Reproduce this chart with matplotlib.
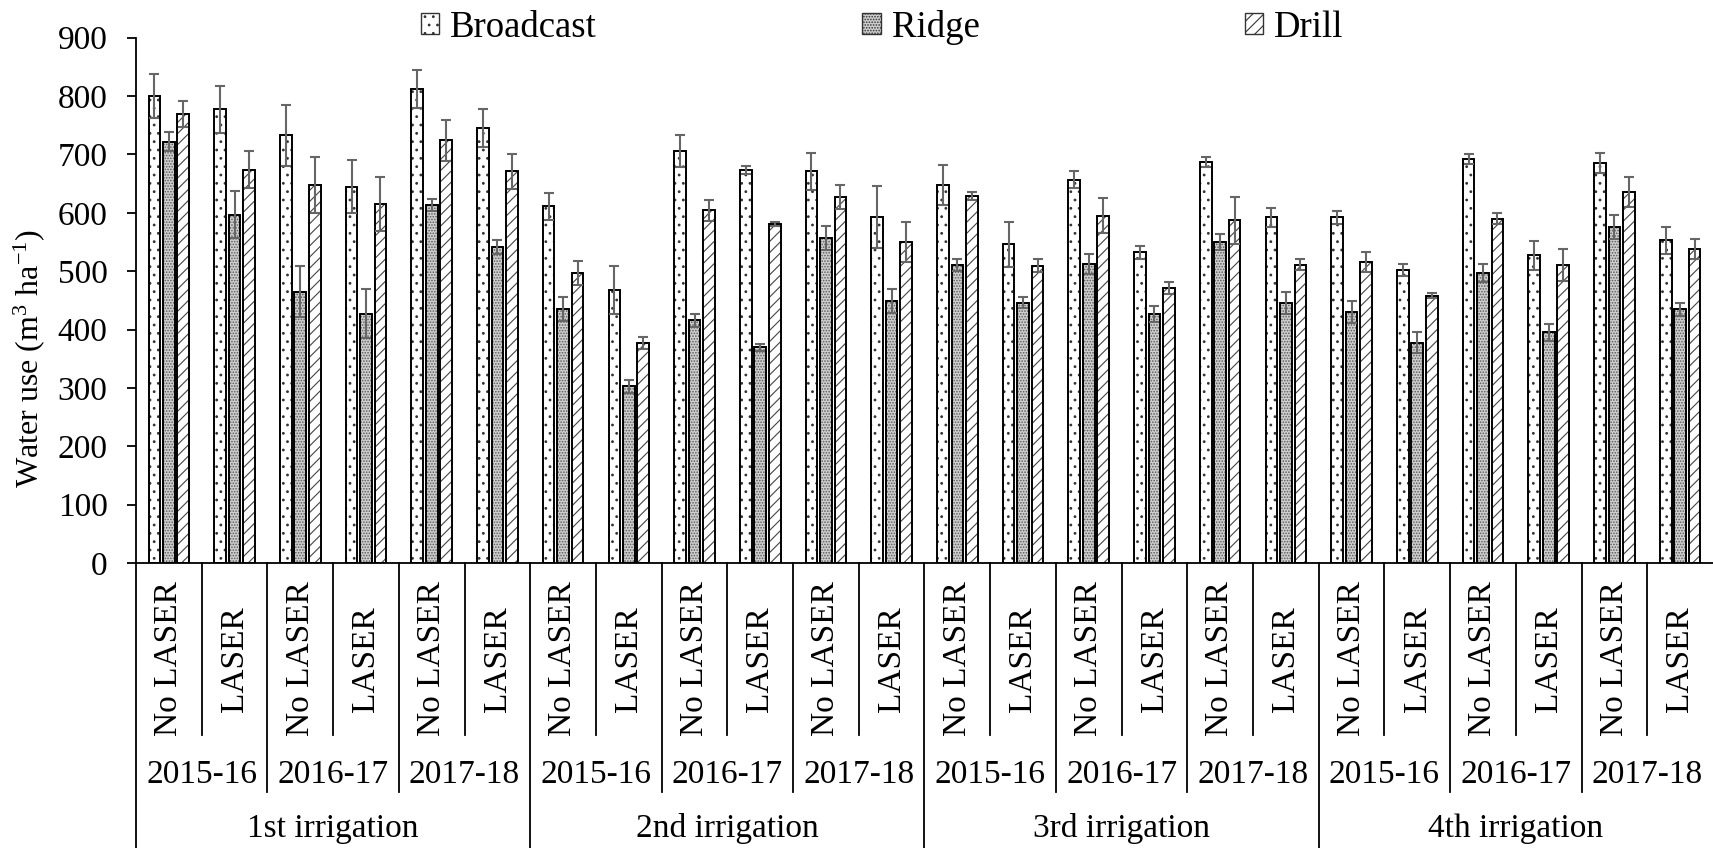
import matplotlib
matplotlib.use("Agg")
import matplotlib.pyplot as plt
import matplotlib.transforms as mtransforms
import numpy as np

# =========================
# DATA
# =========================
irrigations = ["1st irrigation", "2nd irrigation", "3rd irrigation", "4th irrigation"]
years = ["2015-16", "2016-17", "2017-18"]
levelling = ["No LASER", "LASER"]

broadcast = [800, 777, 733, 645, 812, 745,
             611, 467, 706, 673, 671, 593,
             648, 546, 657, 532, 687, 592,
             592, 502, 692, 527, 685, 553]
broadcast_err = [38, 40, 52, 45, 33, 33,
                 23, 41, 27, 7, 32, 53,
                 34, 39, 14, 11, 9, 17,
                 11, 11, 9, 25, 17, 23]

ridge = [722, 597, 465, 427, 613, 541,
         435, 303, 416, 370, 557, 449,
         511, 446, 513, 427, 550, 446,
         430, 377, 497, 395, 576, 435]
ridge_err = [16, 40, 43, 42, 10, 12,
             20, 11, 11, 6, 21, 21,
             10, 9, 17, 14, 14, 19,
             19, 18, 16, 14, 21, 11]

drill = [769, 674, 648, 615, 724, 671,
         497, 377, 604, 581, 627, 550,
         629, 509, 595, 471, 587, 511,
         515, 458, 590, 511, 636, 538]
drill_err = [22, 32, 48, 46, 35, 30,
             21, 10, 18, 4, 20, 35,
             7, 11, 30, 10, 40, 9,
             17, 4, 9, 27, 26, 17]

# =========================
# STYLE
# =========================
plt.rcParams['font.family'] = 'Liberation Serif'
plt.rcParams['mathtext.fontset'] = 'custom'
plt.rcParams['mathtext.rm'] = 'Liberation Serif'
plt.rcParams['mathtext.it'] = 'Liberation Serif:italic'
plt.rcParams['hatch.linewidth'] = 0.8

FS = 24
W, H = 1713, 848

fig = plt.figure(figsize=(W / 100, H / 100), dpi=100)
ax = fig.add_axes([136 / W, 1 - 563 / H, 1 - 136 / W, (563 - 37.7) / H])

n = len(broadcast)
x = np.arange(n)
bw = 0.178
offs = [-0.22, 0.0, 0.22]

series = [
    ("Broadcast", broadcast, broadcast_err, "white", "..", "#333333"),
    ("Ridge", ridge, ridge_err, "#cfcfcf", "......", "#5a5a5a"),
    ("Drill", drill, drill_err, "white", "///", "#444444"),
]

handles = []
for (name, vals, errs, fc, hatch, hc), off in zip(series, offs):
    # hatch layer
    ax.bar(x + off, vals, bw, color=fc, edgecolor=hc, hatch=hatch, linewidth=0, zorder=2)
    # outline
    ax.bar(x + off, vals, bw, facecolor="none", edgecolor="black", linewidth=1.4, zorder=3)
    ax.errorbar(x + off, vals, yerr=errs, fmt="none", ecolor="#666666",
                elinewidth=1.5, capsize=3.5, capthick=1.5, zorder=4)
    handles.append(plt.Rectangle((0, 0), 1, 1, facecolor=fc, edgecolor="#333333",
                                 hatch=hatch, linewidth=1.0, label=name))

ax.set_xlim(-0.5, n - 0.5)
ax.set_ylim(0, 900)
ax.set_yticks(range(0, 901, 100))
ax.tick_params(axis='y', labelsize=FS, length=6.5, width=1.3, direction='out', pad=14)
ax.set_xticks([])
for s in ["top", "right"]:
    ax.spines[s].set_visible(False)
ax.spines["left"].set_linewidth(1.3)
ax.spines["bottom"].set_linewidth(1.3)
ax.set_ylabel(r"Water use (m$^{3}$ ha$^{-1}$)", fontsize=23)
ax.yaxis.set_label_coords((47 - 136) / 1577, 0.39)

# =========================
# MULTI-LEVEL CATEGORY AXIS
# =========================
trans = mtransforms.blended_transform_factory(ax.transData, fig.transFigure)
y_laser = 1 - 735 / H
y_year = 1 - 792 / H

for k in range(n):
    xs = k - 0.5
    if k % 6 == 0:
        y_end = 0
    elif k % 2 == 0:
        y_end = y_year
    else:
        y_end = y_laser
    ax.plot([xs, xs], [ax.get_position().y0, y_end], color="black", lw=1.3,
            transform=trans, clip_on=False)

for k in range(n):
    ax.text(k, 1 - 659 / H, levelling[k % 2], rotation=90, ha="center", va="center",
            fontsize=FS, transform=trans)

for i in range(len(irrigations) * len(years)):
    ax.text(2 * i + 0.5, 1 - 775 / H, years[i % 3], ha="center", va="center",
            fontsize=FS, transform=trans)

for i, lab in enumerate(irrigations):
    ax.text(6 * i + 2.5, 1 - 829 / H, lab, ha="center", va="center",
            fontsize=FS, transform=trans)

fig.legend(handles=handles, loc="center", bbox_to_anchor=(0.515, 0.968), ncol=3,
           frameon=False, fontsize=26.5, handlelength=0.5, handleheight=0.5,
           handletextpad=0.3, columnspacing=7.2)

plt.savefig("out.png", dpi=100)
